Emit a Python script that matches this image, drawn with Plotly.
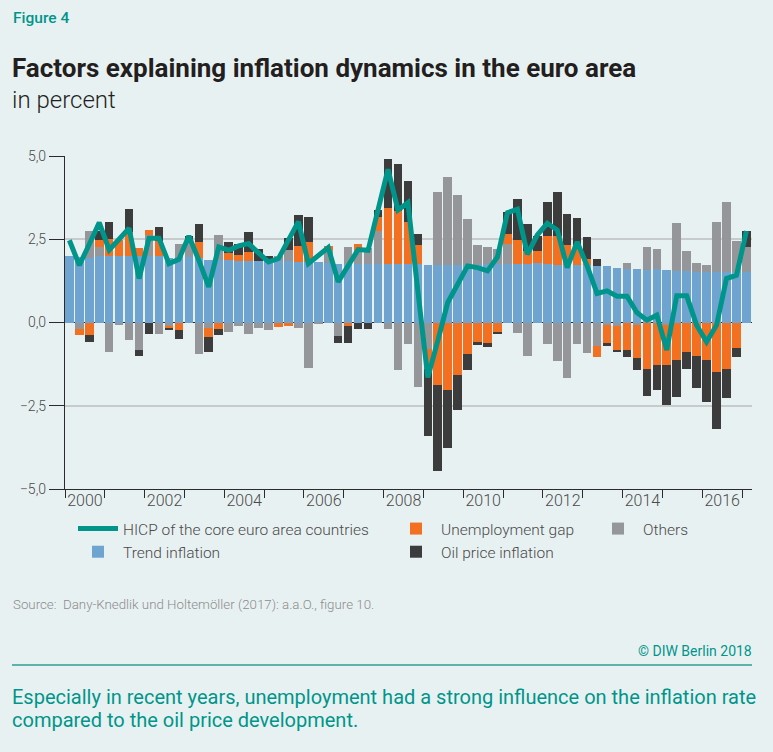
import plotly.graph_objects as go

# ---------------- data (quarterly, 2000Q1 .. 2017Q1) ----------------
years = list(range(2000, 2018))
quarters = [f"{y}Q{q}" for y in years for q in (1, 2, 3, 4)][:69]

trend = [2.00, 1.97, 1.95, 2.01, 1.99, 1.99, 1.99, 2.00, 1.99, 1.99, 1.95, 1.95,
         1.97, 1.95, 1.89, 1.89, 1.87, 1.84, 1.84, 1.84, 1.84, 1.84, 1.84, 1.82,
         1.82, 1.82, 1.79, 1.77, 1.77, 1.77, 1.77, 1.77, 1.77, 1.75, 1.75, 1.75,
         1.72, 1.72, 1.72, 1.72, 1.72, 1.72, 1.75, 1.75, 1.77, 1.77, 1.77, 1.80,
         1.77, 1.72, 1.72, 1.72, 1.72, 1.69, 1.69, 1.63, 1.60, 1.60, 1.57, 1.60,
         1.57, 1.54, 1.54, 1.51, 1.51, 1.51, 1.51, 1.51, 1.51]

others = [0.00, -0.21, 0.79, 0.27, -0.88, -0.07, -0.53, -0.83, 0.65, -0.34, -0.10, 0.40,
          0.50, -0.95, -0.15, 0.73, -0.29, -0.10, -0.34, -0.16, -0.23, 0.17, 0.33, -0.16,
          -1.36, -0.04, 0.40, -0.41, 0.49, 0.40, 0.48, 0.97, -0.19, -1.43, -0.65, -1.94,
          -0.80, 2.19, 2.64, 2.10, 1.38, 0.60, 0.51, 0.47, 0.60, -0.31, -1.00, 0.00,
          -0.64, -1.15, -1.67, -0.64, -0.91, -0.71, -0.08, -0.10, 0.18, -0.08, 0.69, 0.60,
          -0.08, 1.44, 0.60, 0.27, 0.21, 1.50, 2.10, 0.93, 0.75]

unemployment = [0.00, -0.16, -0.38, 0.21, 0.53, 0.50, 0.74, 0.23, 0.15, 0.45, -0.06, -0.23,
                0.00, 0.47, -0.29, -0.20, 0.22, 0.18, 0.28, 0.00, 0.00, -0.13, -0.10, 0.47,
                0.60, 0.00, 0.12, 0.00, -0.10, 0.20, 0.00, 0.43, 1.66, 1.59, 1.27, 0.57,
                -0.60, -1.88, -2.03, -1.58, -0.95, -0.59, -0.62, -0.28, 0.30, 0.70, 0.38, 0.34,
                0.82, 0.87, 0.60, 0.60, 0.18, -0.32, -0.53, -0.73, -0.83, -0.99, -1.40, -1.28,
                -1.21, -1.13, -0.89, -1.01, -1.13, -1.49, -1.40, -0.77, 0.00]

oil = [0.00, 0.00, -0.20, 0.27, 0.50, 0.00, 0.67, -0.17, -0.34, 0.43, -0.07, -0.27,
       0.12, 0.53, -0.45, -0.18, 0.33, 0.35, 0.59, 0.36, 0.17, 0.00, 0.36, 0.93,
       0.74, 0.00, 0.00, -0.20, -0.51, -0.19, -0.19, 0.20, 1.47, 1.41, 1.22, 0.33,
       -2.00, -2.58, -1.73, -1.04, -0.47, -0.08, -0.11, -0.06, 0.65, 1.25, 0.82, 0.46,
       1.02, 1.32, 0.93, 0.82, 0.66, 0.21, -0.10, -0.06, -0.20, -0.35, -0.81, -0.75,
       -1.20, -1.11, -0.51, -0.96, -1.26, -1.71, -0.87, -0.27, 0.48]

hicp = [2.47, 1.72, 2.35, 3.00, 2.18, 2.50, 2.83, 1.32, 2.53, 2.53, 1.77, 1.90,
        2.60, 1.87, 1.07, 2.27, 2.17, 2.30, 2.37, 2.09, 1.82, 1.92, 2.47, 3.03,
        1.77, 2.01, 2.25, 1.22, 1.72, 2.19, 2.17, 3.38, 4.60, 3.38, 3.60, 0.95,
        -1.65, -0.55, 0.60, 1.15, 1.70, 1.65, 1.55, 1.97, 3.30, 3.40, 2.05, 2.63,
        2.98, 2.78, 1.65, 2.42, 1.70, 0.87, 0.95, 0.79, 0.79, 0.30, 0.07, 0.22,
        -0.83, 0.80, 0.80, -0.08, -0.58, -0.08, 1.32, 1.42, 2.75]

y_ticks = [-5.0, -2.5, 0.0, 2.5, 5.0]
year_labels = [str(y) if y % 2 == 0 else "" for y in range(2000, 2017)]

# ---------------- styling ----------------
BG = "#e8f1f2"
C_TREND = "#70a4d0"
C_OTHERS = "#95969a"
C_UNEMP = "#f37021"
C_OIL = "#3c3c3c"
TEAL = "#00958a"
FONT = "Roboto"

W, H = 773, 752
L, R, T, B = 65, 21, 156, 263
PW, PH = W - L - R, H - T - B

def X(px):
    return (px - L) / PW

def Y(py):
    return (H - B - py) / PH

def qpos(label):
    y, q = label.split("Q")
    return int(y) + (int(q) - 1) / 4 + 0.11

xs = [qpos(q) for q in quarters]

fig = go.Figure()
bar_w = 0.215
for name, vals, col, leg, rank in [
    ("Trend inflation", trend, C_TREND, "legend", 2),
    ("Others", others, C_OTHERS, "legend3", 5),
    ("Unemployment gap", unemployment, C_UNEMP, "legend2", 3),
    ("Oil price inflation", oil, C_OIL, "legend2", 4),
]:
    fig.add_trace(go.Bar(x=xs, y=vals, name=name, marker=dict(color=col, line=dict(width=0)),
                         width=bar_w, legend=leg, legendrank=rank,
                         customdata=quarters,
                         hovertemplate="%{customdata}: %{y:.2f}<extra>" + name + "</extra>"))

fig.add_trace(go.Scatter(x=xs, y=hicp, mode="lines", name="HICP of the core euro area countries",
                         line=dict(color=TEAL, width=5, shape="linear"), legend="legend",
                         legendrank=1, customdata=quarters,
                         hovertemplate="%{customdata}: %{y:.2f}<extra>HICP</extra>"))

# invisible helper trace so the label axis (xaxis2) is drawn
fig.add_trace(go.Scatter(x=[2000, 2017.25], y=[0, 0], xaxis="x2", yaxis="y", mode="markers",
                         marker=dict(opacity=0), showlegend=False, hoverinfo="skip"))

leg_font = dict(family=FONT, size=15.5, color="#4a4a4a", weight=300)
common_leg = dict(xref="container", yref="container", xanchor="left", yanchor="top",
                  bgcolor="rgba(0,0,0,0)", font=leg_font, traceorder="normal",
                  itemwidth=40, tracegroupgap=0, orientation="v")
fig.update_layout(
    legend=dict(x=73 / W, y=1 - 512 / H, **common_leg),
    legend2=dict(x=391 / W, y=1 - 512 / H, **common_leg),
    legend3=dict(x=593 / W, y=1 - 512 / H, **common_leg),
)

fig.update_layout(
    width=W, height=H,
    margin=dict(l=L, r=R, t=T, b=B, pad=0, autoexpand=False),
    paper_bgcolor=BG, plot_bgcolor=BG,
    barmode="relative", bargap=0,
    separators=",.",
    showlegend=True,
    font=dict(family=FONT, color="#4a4a4a"),
    xaxis=dict(
        range=[2000, 2017.25], tickmode="linear", tick0=2000, dtick=1,
        showticklabels=False,
        ticks="outside", ticklen=8, tickcolor="#2b2b2b", tickwidth=1.2,
        showgrid=False, zeroline=False,
        showline=True, linecolor="#2b2b2b", linewidth=1.2,
        fixedrange=True,
    ),
    xaxis2=dict(
        overlaying="x", side="bottom", anchor="y",
        range=[2000, 2017.25], tickmode="array",
        tickvals=[y + 0.5 for y in range(2000, 2017)], ticktext=year_labels,
        ticks="",
        tickfont=dict(family=FONT, size=16, color="#4a4a4a", weight=300),
        showgrid=False, zeroline=False, showline=False, fixedrange=True,
    ),
    yaxis=dict(
        range=[-5, 5], tickmode="array", tickvals=y_ticks, tickformat=".1f",
        ticks="outside", ticklen=15, tickcolor="#2b2b2b", tickwidth=1.2,
        tickfont=dict(family=FONT, size=14, color="#4a4a4a", weight=300),
        showgrid=True, gridcolor="#c8cbcc", gridwidth=1.5,
        zeroline=True, zerolinecolor="#2b2b2b", zerolinewidth=1.2,
        showline=True, linecolor="#2b2b2b", linewidth=1.2,
        fixedrange=True,
    ),
)

def note(text, px, py, size, color, weight=400, xanchor="left"):
    fig.add_annotation(text=text, x=X(px), y=Y(py), xref="paper", yref="paper",
                       xanchor=xanchor, yanchor="middle", showarrow=False,
                       font=dict(family=FONT, size=size, color=color, weight=weight))

note("Figure 4", 11, 18, 15.5, TEAL, 500)
note("Factors explaining inflation dynamics in the euro area", 10, 68, 26, "#231f20", 700)
note("in percent", 10, 100, 24, "#231f20", 300)
note("Source:  Dany-Knedlik und Holtemöller (2017): a.a.O., figure 10.", 11, 604, 13.3, "#8c8c8c", 300)
note("© DIW Berlin 2018", 754, 651, 14, TEAL, 400, xanchor="right")
note("Especially in recent years, unemployment had a strong influence on the inflation rate",
     10, 697, 20, TEAL, 400)
note("compared to the oil price development.", 10, 720, 20, TEAL, 400)

fig.add_shape(type="line", xref="paper", yref="paper", x0=X(12), x1=X(752), y0=Y(665), y1=Y(665),
              line=dict(color="#5db3aa", width=2))

fig.write_html(
    "out.html",
    config={"displayModeBar": False},
    post_script="document.body.style.margin='0px';document.body.style.backgroundColor='" + BG + "';",
)
